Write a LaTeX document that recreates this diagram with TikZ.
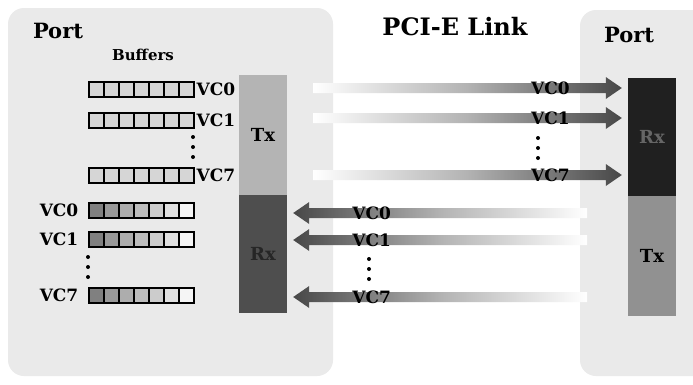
\documentclass[tikz,border=0pt]{standalone}
\usepackage{fontspec}
\setmainfont{DejaVu Serif}
\usetikzlibrary{positioning, calc}
\definecolor{portbg}{RGB}{234,234,234}
\definecolor{txlight}{RGB}{180,180,180}
\definecolor{rxdark}{RGB}{78,78,78}
\definecolor{rxblack}{RGB}{32,32,32}
\definecolor{txmid}{RGB}{145,145,145}

% fat shaded arrow: tail, head, direction (1 = right, -1 = left), shading
\newcommand{\linkarrow}[4]{%
  \shade[#4] ($(#1)+(0,-5)$) -- ($(#2)+({-16*#3},-5)$) -- ($(#2)+({-16*#3},-11)$) -- (#2)
    -- ($(#2)+({-16*#3},11)$) -- ($(#2)+({-16*#3},5)$) -- ($(#1)+(0,5)$) -- cycle;}

\tikzset{
  cell/.style={draw, line width=2pt, minimum width=15pt, minimum height=15pt, inner sep=0pt, outer sep=0pt},
  column/.style={minimum width=48pt, inner sep=0pt, font=\bfseries\fontsize{18}{20}\selectfont},
  vclabel/.style={inner sep=0pt, font=\bfseries\fontsize{17}{19}\selectfont},
  heading/.style={inner sep=0pt, font=\bfseries\fontsize{21}{24}\selectfont},
  toright/.style={left color=white, right color=black!72, middle color=black!30},
  toleft/.style={left color=black!72, right color=white, middle color=black!30},
}

\begin{document}
\begin{tikzpicture}[x=1pt, y=-1pt]
  \useasboundingbox[fill=white] (0,0) rectangle (693,384);
  % port backgrounds
  \fill[portbg, rounded corners=16] (8,8) rectangle (333,376);
  \fill[portbg, rounded corners=16] (580,10) rectangle (720,376);

  \node[heading] (portL) at (58,31) {Port};
  \node[heading] (portR) at (629,35) {Port};
  \node[heading, font=\bfseries\fontsize{24}{28}\selectfont] (link) at (455,27) {PCI-E Link};
  \node[inner sep=0pt, font=\bfseries\fontsize{15}{17}\selectfont] (buf) at (143,55) {Buffers};

  % Tx / Rx columns
  \node[column, fill=txlight, minimum height=120pt] (txL) at (263,135) {Tx};
  \node[column, fill=rxdark, text=black!85, minimum height=118pt] (rxL) at (263,254) {Rx};
  \node[column, fill=rxblack, text=black!60, minimum height=118pt] (rxR) at (652,137) {Rx};
  \node[column, fill=txmid, minimum height=120pt] (txR) at (652,256) {Tx};

  % transmit buffers
  \foreach \r/\y in {0/89, 1/120, 7/175} {
    \foreach \i in {0,...,6}
      \node[cell, fill=black!16] (tb\r-\i) at (96+15*\i,\y) {};
    \node[vclabel, right=3pt of tb\r-6] {VC\r};
  }
  \foreach \d in {0,1,2}
    \fill (193,137+10*\d) circle (2);

  % receive buffers
  \foreach \r/\y in {0/210, 1/239, 7/295} {
    \foreach \i/\s in {0/50,1/40,2/32,3/26,4/20,5/12,6/4}
      \node[cell, fill=black!\s] (rb\r-\i) at (96+15*\i,\y) {};
    \node[vclabel, left=10pt of rb\r-0] {VC\r};
  }
  \foreach \d in {0,1,2}
    \fill (88,257+10*\d) circle (2);

  % link: Tx -> Rx
  \foreach \r/\y in {0/88, 1/118, 7/175} {
    \coordinate (out\r) at (313,\y);
    \coordinate (in\r) at ($(rxR.west |- out\r)+(-6,0)$);
    \linkarrow{out\r}{in\r}{1}{toright}
    \node[vclabel, anchor=east] at ($(in\r)+(-52,0)$) {VC\r};
  }
  \foreach \d in {0,1,2}
    \fill (538,138+10*\d) circle (2);

  % link: Tx -> Rx, other way
  \foreach \r/\y in {0/213, 1/240, 7/297} {
    \coordinate (back\r) at (587,\y);
    \coordinate (recv\r) at ($(rxL.east |- back\r)+(6,0)$);
    \linkarrow{back\r}{recv\r}{-1}{toleft}
    \node[vclabel, anchor=west] at ($(recv\r)+(59,0)$) {VC\r};
  }
  \foreach \d in {0,1,2}
    \fill (369,259+10*\d) circle (2);
\end{tikzpicture}
\end{document}
